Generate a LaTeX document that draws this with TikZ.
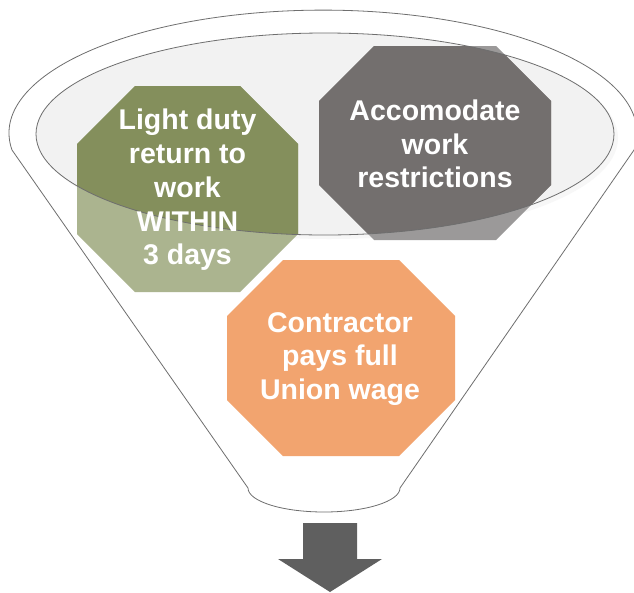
\documentclass[tikz,border=0pt]{standalone}
\usepackage{fontspec}
\setmainfont{Liberation Sans}
\definecolor{greenD}{HTML}{848F5C}
\definecolor{greenL}{HTML}{ABB48F}
\definecolor{grayD}{HTML}{736F6E}
\definecolor{grayL}{HTML}{9B9999}
\definecolor{orangeC}{HTML}{F2A46F}
\definecolor{arrowC}{HTML}{5F5F5F}
\definecolor{ellC}{HTML}{F2F2F2}
\definecolor{shadowC}{HTML}{F7F7F7}
\definecolor{lineC}{HTML}{6E6E6E}
% octagon path: cx, cy, half width, half height, cut
\newcommand{\octpath}[5]{({#1-#3+#5},{#2-#4}) -- ({#1+#3-#5},{#2-#4}) -- ({#1+#3},{#2-#4+#5}) -- ({#1+#3},{#2+#4-#5}) -- ({#1+#3-#5},{#2+#4}) -- ({#1-#3+#5},{#2+#4}) -- ({#1-#3},{#2+#4-#5}) -- ({#1-#3},{#2-#4+#5}) -- cycle}
\begin{document}
\begin{tikzpicture}[x=1pt,y=-1pt,
  txt/.style={text=white, font=\fontsize{28.5}{33.8}\selectfont\bfseries, align=center, inner sep=0pt},
  rim/.style={draw=lineC, line width=0.8pt}]
\useasboundingbox (0,0) rectangle (634,592);
% funnel body
\draw[rim, fill=white] (12,150) arc[start angle=187.9, end angle=-7.9, x radius=314pt, y radius=123pt]
  -- (400,488) arc[start angle=0, end angle=-180, x radius=76pt, y radius=24pt] -- cycle;
% inner ellipse (glass)
\fill[shadowC] (329,138) ellipse[x radius=289pt, y radius=101pt];
\fill[ellC] (325,134) ellipse[x radius=289pt, y radius=101pt];
% octagons, light parts
\fill[greenL] \octpath{187.5}{189}{110.5}{103}{58};
\fill[grayL] \octpath{435}{143}{116}{97}{55};
\fill[orangeC] \octpath{341}{358}{114}{98}{56};
% octagons, parts seen through the glass
\begin{scope}
  \clip (325,134) ellipse[x radius=289pt, y radius=101pt];
  \fill[greenD] \octpath{187.5}{189}{110.5}{103}{58};
  \fill[grayD] \octpath{435}{143}{116}{97}{55};
\end{scope}
\draw[rim] (325,134) ellipse[x radius=289pt, y radius=101pt];
% texts
\node[txt] (light) at (187.5,190) {Light duty\\return to\\work\\WITHIN\\3 days};
\node[txt] (accom) at (435,144) {Accomodate\\work\\restrictions};
\node[txt] (contr) at (340,359) {Contractor\\pays full\\Union wage};
% output arrow
\fill[arrowC] (303,523) -- (357,523) -- (357,559) -- (382,559) -- (330,592) -- (278,559) -- (303,559) -- cycle;
\end{tikzpicture}
\end{document}
